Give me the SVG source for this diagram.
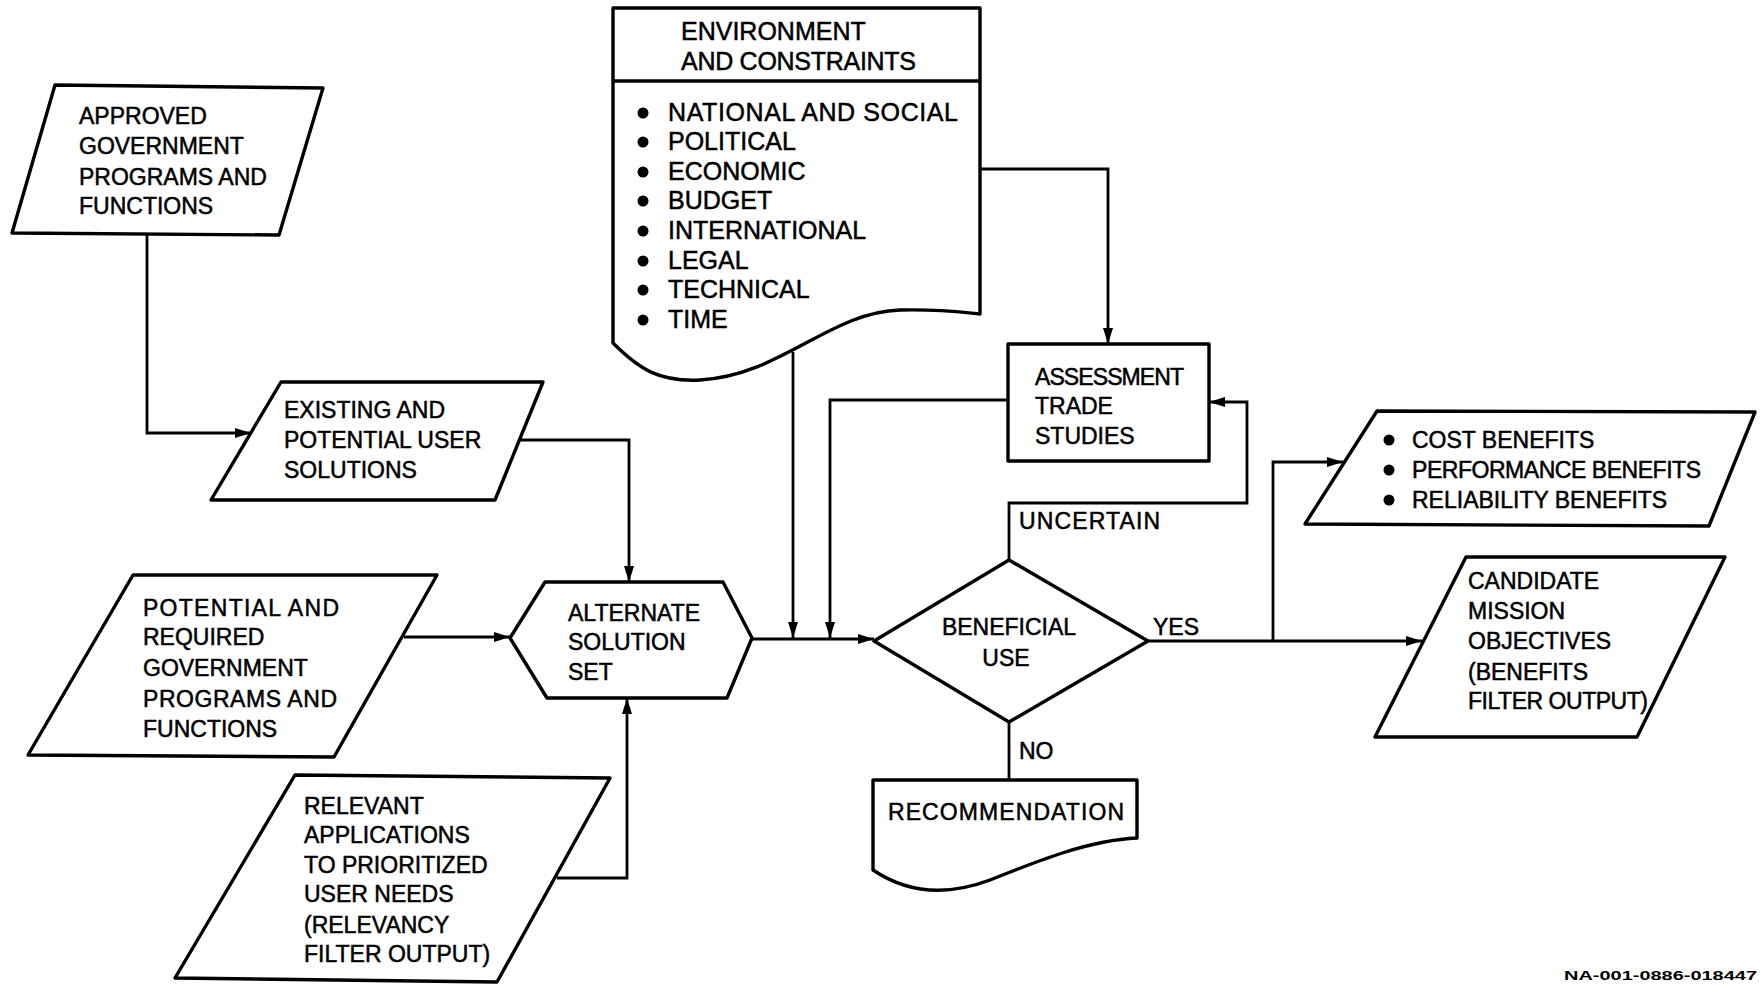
<svg xmlns="http://www.w3.org/2000/svg" width="1764" height="985" viewBox="0 0 1764 985">
<defs>
<style>
.shape{fill:#fff;stroke:#000;stroke-width:3.4;stroke-linejoin:round}
.conn{fill:none;stroke:#000;stroke-width:2.8}
.t{font-family:"Liberation Sans",Arial,sans-serif;font-size:23px;fill:#000;stroke:#000;stroke-width:0.5}
.te{font-family:"Liberation Sans",Arial,sans-serif;font-size:25px;fill:#000;stroke:#000;stroke-width:0.5}
.tc{font-family:"Liberation Sans",Arial,sans-serif;font-size:23px;fill:#000;stroke:#000;stroke-width:0.5;text-anchor:middle}
.dot{fill:#000}
</style>
<marker id="arr" viewBox="0 0 16 12" refX="16" refY="6" markerWidth="16" markerHeight="12" markerUnits="userSpaceOnUse" orient="auto">
<path d="M0,1 L16,6 L0,11 z" fill="#000"/>
</marker>
</defs>
<rect width="1764" height="985" fill="#fff"/>
<g id="connectors">
<path class="conn" d="M147,235 V433 H251" marker-end="url(#arr)"/>
<path class="conn" d="M519,440 H629 V582" marker-end="url(#arr)"/>
<path class="conn" d="M980,169 H1108 V344" marker-end="url(#arr)"/>
<path class="conn" d="M793,352 V638" marker-end="url(#arr)"/>
<path class="conn" d="M1008,400 H830 V638" marker-end="url(#arr)"/>
<path class="conn" d="M752,639 H874" marker-end="url(#arr)"/>
<path class="conn" d="M404,637 H510" marker-end="url(#arr)"/>
<path class="conn" d="M557,878 H627 V698" marker-end="url(#arr)"/>
<path class="conn" d="M1009,560 V503 H1247 V402 H1209" marker-end="url(#arr)"/>
<path class="conn" d="M1148,641 H1422" marker-end="url(#arr)"/>
<path class="conn" d="M1273,641 V462 H1343" marker-end="url(#arr)"/>
<path class="conn" d="M1009,722 V780"/>
</g>
<g id="approved">
<polygon class="shape" points="55,85 323,88 279,235 12,233"/>
<text class="t" x="79" y="124">APPROVED</text>
<text class="t" x="79" y="154">GOVERNMENT</text>
<text class="t" x="79" y="185">PROGRAMS AND</text>
<text class="t" x="79" y="214">FUNCTIONS</text>
</g>
<g id="existing">
<polygon class="shape" points="281,382 543,382 495,500 211,500"/>
<text class="t" x="284" y="418">EXISTING AND</text>
<text class="t" x="284" y="448">POTENTIAL USER</text>
<text class="t" x="284" y="478">SOLUTIONS</text>
</g>
<g id="environment">
<path class="shape" d="M613,8 H980 V314 C960,312 940,309 900,310 C830,312 780,376 700,380 C660,382 640,370 613,343 Z"/>
<line x1="613" y1="81" x2="980" y2="81" stroke="#000" stroke-width="3.4"/>
<text class="te" x="681" y="40">ENVIRONMENT</text>
<text class="te" x="681" y="70" textLength="235">AND CONSTRAINTS</text>
<circle class="dot" cx="643" cy="113" r="5.5"/><text class="te" x="668" y="121" textLength="290">NATIONAL AND SOCIAL</text>
<circle class="dot" cx="643" cy="142" r="5.5"/><text class="te" x="668" y="150">POLITICAL</text>
<circle class="dot" cx="643" cy="172" r="5.5"/><text class="te" x="668" y="180">ECONOMIC</text>
<circle class="dot" cx="643" cy="201" r="5.5"/><text class="te" x="668" y="209">BUDGET</text>
<circle class="dot" cx="643" cy="231" r="5.5"/><text class="te" x="668" y="239">INTERNATIONAL</text>
<circle class="dot" cx="643" cy="261" r="5.5"/><text class="te" x="668" y="269">LEGAL</text>
<circle class="dot" cx="643" cy="290" r="5.5"/><text class="te" x="668" y="298">TECHNICAL</text>
<circle class="dot" cx="643" cy="320" r="5.5"/><text class="te" x="668" y="328">TIME</text>
</g>
<g id="assessment">
<rect class="shape" x="1008" y="344" width="201" height="117"/>
<text class="t" x="1035" y="385" textLength="149">ASSESSMENT</text>
<text class="t" x="1035" y="414">TRADE</text>
<text class="t" x="1035" y="444">STUDIES</text>
</g>
<g id="alternate">
<polygon class="shape" points="510,638 545,582 723,582 752,638 727,698 547,698"/>
<text class="t" x="568" y="621">ALTERNATE</text>
<text class="t" x="568" y="650">SOLUTION</text>
<text class="t" x="568" y="680">SET</text>
</g>
<g id="potential">
<polygon class="shape" points="133,575 437,575 334,757 28,755"/>
<text class="t" x="143" y="616" textLength="196">POTENTIAL AND</text>
<text class="t" x="143" y="645">REQUIRED</text>
<text class="t" x="143" y="676">GOVERNMENT</text>
<text class="t" x="143" y="707" textLength="194">PROGRAMS AND</text>
<text class="t" x="143" y="737">FUNCTIONS</text>
</g>
<g id="relevant">
<polygon class="shape" points="295,775 610,778 497,982 175,978"/>
<text class="t" x="304" y="814">RELEVANT</text>
<text class="t" x="304" y="843">APPLICATIONS</text>
<text class="t" x="304" y="873">TO PRIORITIZED</text>
<text class="t" x="304" y="902">USER NEEDS</text>
<text class="t" x="304" y="933">(RELEVANCY</text>
<text class="t" x="304" y="962">FILTER OUTPUT)</text>
</g>
<g id="beneficial">
<polygon class="shape" points="874,641 1009,560 1148,641 1009,722"/>
<text class="tc" x="1009" y="635">BENEFICIAL</text>
<text class="tc" x="1006" y="666">USE</text>
</g>
<g id="labels">
<text class="t" x="1019" y="529" textLength="141">UNCERTAIN</text>
<text class="t" x="1153" y="635">YES</text>
<text class="t" x="1019" y="759">NO</text>
</g>
<g id="recommendation">
<path class="shape" d="M873,780 H1137 V838 C1090,840 1040,860 990,880 C950,895 910,895 873,870 Z"/>
<text class="t" x="888" y="820" textLength="236">RECOMMENDATION</text>
</g>
<g id="benefits">
<polygon class="shape" points="1377,411 1755,412 1709,526 1305,524"/>
<circle class="dot" cx="1389" cy="440" r="5.5"/><text class="t" x="1412" y="448">COST BENEFITS</text>
<circle class="dot" cx="1389" cy="470" r="5.5"/><text class="t" x="1412" y="478" textLength="289">PERFORMANCE BENEFITS</text>
<circle class="dot" cx="1389" cy="500" r="5.5"/><text class="t" x="1412" y="508">RELIABILITY BENEFITS</text>
</g>
<g id="candidate">
<polygon class="shape" points="1466,557 1725,557 1637,737 1375,737"/>
<text class="t" x="1468" y="589">CANDIDATE</text>
<text class="t" x="1468" y="619">MISSION</text>
<text class="t" x="1468" y="649">OBJECTIVES</text>
<text class="t" x="1468" y="680">(BENEFITS</text>
<text class="t" x="1468" y="709" textLength="180">FILTER OUTPUT)</text>
</g>
<text x="1564" y="980" font-family="Liberation Sans, Arial, sans-serif" font-size="13" font-weight="bold" textLength="193" lengthAdjust="spacingAndGlyphs">NA-001-0886-018447</text>
</svg>
